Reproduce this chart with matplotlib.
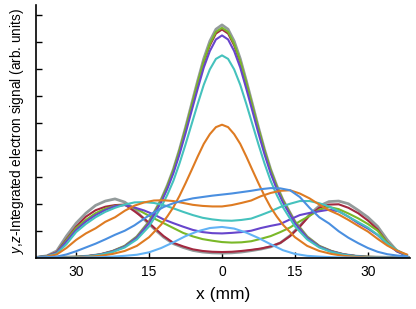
import numpy as np
import matplotlib
matplotlib.use('Agg')
import matplotlib.pyplot as plt

plt.rcParams['font.family'] = ['Liberation Sans', 'DejaVu Sans']
plt.rcParams['mathtext.fontset'] = 'custom'
plt.rcParams['mathtext.it'] = 'Liberation Sans:italic'
plt.rcParams['mathtext.rm'] = 'Liberation Sans'

## broad profiles, sampled every 2 mm
x_broad = np.arange(-38, 39, 2)

gray_broad = [0.02, 0.07, 0.25, 0.80, 1.28, 1.65, 1.94, 2.10, 2.18, 2.06, 1.80, 1.42, 1.08,
              0.76, 0.52, 0.38, 0.27, 0.21, 0.18, 0.17, 0.18, 0.21, 0.26, 0.32, 0.40, 0.55,
              0.82, 1.18, 1.60, 1.92, 2.08, 2.10, 2.00, 1.76, 1.50, 1.16, 0.66, 0.25, 0.08]
red_broad = [0.02, 0.06, 0.20, 0.68, 1.15, 1.52, 1.76, 1.89, 1.95, 1.97, 1.72, 1.45, 1.12,
             0.80, 0.55, 0.42, 0.31, 0.25, 0.22, 0.21, 0.22, 0.25, 0.29, 0.34, 0.42, 0.55,
             0.80, 1.15, 1.56, 1.85, 1.97, 1.98, 1.85, 1.65, 1.38, 1.05, 0.55, 0.25, 0.09]
green_broad = [0.02, 0.06, 0.18, 0.65, 1.10, 1.40, 1.65, 1.82, 1.92, 1.96, 1.85, 1.65, 1.46,
               1.28, 1.10, 0.92, 0.79, 0.69, 0.63, 0.58, 0.56, 0.57, 0.61, 0.70, 0.80, 0.95,
               1.12, 1.35, 1.55, 1.78, 1.88, 1.80, 1.64, 1.46, 1.25, 1.00, 0.55, 0.24, 0.08]
purple_broad = [0.02, 0.06, 0.18, 0.60, 1.03, 1.34, 1.58, 1.77, 1.91, 1.95, 1.86, 1.75, 1.60,
                1.42, 1.28, 1.15, 1.03, 0.95, 0.91, 0.90, 0.92, 0.95, 1.00, 1.10, 1.18, 1.25,
                1.42, 1.58, 1.66, 1.72, 1.78, 1.72, 1.52, 1.28, 1.08, 0.84, 0.50, 0.23, 0.08]
cyan_broad = [0.02, 0.05, 0.15, 0.50, 0.95, 1.25, 1.50, 1.70, 1.85, 1.97, 2.05, 2.06, 2.03,
              1.95, 1.83, 1.70, 1.58, 1.48, 1.42, 1.38, 1.37, 1.40, 1.45, 1.58, 1.72, 1.88,
              2.00, 2.10, 2.10, 2.02, 1.90, 1.72, 1.52, 1.32, 1.12, 0.85, 0.52, 0.28, 0.09]
orange_broad = [0.01, 0.04, 0.12, 0.36, 0.66, 0.90, 1.09, 1.33, 1.50, 1.74, 1.93, 2.05, 2.12,
                2.13, 2.10, 2.03, 1.96, 1.92, 1.90, 1.90, 1.95, 2.03, 2.12, 2.28, 2.40, 2.48,
                2.50, 2.38, 2.20, 1.97, 1.76, 1.60, 1.40, 1.18, 0.97, 0.70, 0.45, 0.26, 0.12]
blue_broad = [0.01, 0.02, 0.04, 0.12, 0.24, 0.38, 0.52, 0.68, 0.85, 1.00, 1.20, 1.45, 1.68,
              1.88, 2.02, 2.12, 2.20, 2.25, 2.30, 2.34, 2.38, 2.43, 2.48, 2.54, 2.58, 2.57,
              2.50, 2.25, 1.85, 1.50, 1.27, 0.98, 0.74, 0.54, 0.36, 0.22, 0.13, 0.08, 0.05]

## central peaks
x_peak = [-38.3, -30, -27.5, -25, -22.5, -20, -17.5, -15, -12.5, -11.25, -10, -8.75, -7.5,
          -6.25, -5, -3.75, -2.5, -1.25, 0, 1.25, 2.5, 3.75, 5, 6.25, 7.5, 8.75, 10, 11.25,
          12.5, 15, 17.5, 20, 22.5, 25, 27.5, 30, 38.7]

gray_peak = [0, 0.03, 0.06, 0.12, 0.24, 0.43, 0.78, 1.34, 2.16, 2.68, 3.28, 4.01, 4.83, 5.70,
             6.56, 7.38, 8.03, 8.47, 8.63, 8.47, 8.03, 7.38, 6.56, 5.70, 4.83, 4.01, 3.28,
             2.68, 2.16, 1.34, 0.78, 0.43, 0.24, 0.12, 0.06, 0.03, 0]
green_peak = [0, 0.03, 0.06, 0.12, 0.24, 0.43, 0.77, 1.32, 2.13, 2.64, 3.24, 3.96, 4.77, 5.62,
              6.48, 7.28, 7.92, 8.37, 8.52, 8.37, 7.92, 7.28, 6.48, 5.62, 4.77, 3.96, 3.24,
              2.64, 2.13, 1.32, 0.77, 0.43, 0.24, 0.12, 0.06, 0.03, 0]
red_peak = [0, 0.03, 0.06, 0.12, 0.24, 0.42, 0.76, 1.31, 2.12, 2.62, 3.21, 3.93, 4.74, 5.58,
            6.43, 7.23, 7.87, 8.31, 8.46, 8.31, 7.87, 7.23, 6.43, 5.58, 4.74, 3.93, 3.21,
            2.62, 2.12, 1.31, 0.76, 0.42, 0.24, 0.12, 0.06, 0.03, 0]
purple_peak = [0, 0.02, 0.06, 0.12, 0.23, 0.41, 0.74, 1.28, 2.06, 2.55, 3.13, 3.83, 4.61, 5.44,
               6.26, 7.05, 7.66, 8.09, 8.24, 8.09, 7.66, 7.05, 6.26, 5.44, 4.61, 3.83, 3.13,
               2.55, 2.06, 1.28, 0.74, 0.41, 0.23, 0.12, 0.06, 0.02, 0]
cyan_peak = [0, 0.02, 0.05, 0.11, 0.21, 0.38, 0.68, 1.16, 1.88, 2.33, 2.85, 3.49, 4.20, 4.95,
             5.70, 6.41, 6.98, 7.37, 7.50, 7.37, 6.98, 6.41, 5.70, 4.95, 4.20, 3.49, 2.85,
             2.33, 1.88, 1.16, 0.68, 0.38, 0.21, 0.11, 0.05, 0.02, 0]
orange_peak = [0, 0.01, 0.03, 0.07, 0.14, 0.25, 0.44, 0.76, 1.23, 1.53, 1.87, 2.29, 2.76, 3.25,
               3.75, 4.22, 4.58, 4.84, 4.93, 4.84, 4.58, 4.22, 3.75, 3.25, 2.76, 2.29, 1.87,
               1.53, 1.23, 0.76, 0.44, 0.25, 0.14, 0.07, 0.03, 0.01, 0]

x_lblue = [-38.3, -30, -27.5, -25, -22.5, -20, -17.5, -15, -12.5, -10, -7.5, -5, -2.5, 0,
           2.5, 5, 7.5, 10, 12.5, 15, 17.5, 20, 22.5, 25, 27.5, 30, 38.7]
lblue_peak = [0, 0, 0.01, 0.02, 0.04, 0.07, 0.11, 0.20, 0.36, 0.57, 0.80, 0.98, 1.10, 1.14,
              1.08, 0.93, 0.73, 0.50, 0.28, 0.14, 0.07, 0.04, 0.02, 0.01, 0, 0, 0]

xticks = [-30, -15, 0, 15, 30]
xticklabels = ['30', '15', '0', '15', '30']

GRAY = '#939b9b'
RED = '#a3283f'
GREEN = '#7ab828'
PURPLE = '#6745cc'
CYAN = '#45c2bd'
ORANGE = '#de7b22'
BLUE = '#4a8fe0'
LBLUE = '#62b2f5'

fig = plt.figure(figsize=(4.16, 3.09), dpi=100)
ax = fig.add_axes([0.086, 0.166, 0.9, 0.818])

ax.plot(x_broad, gray_broad, color=GRAY, lw=2.0)
ax.plot(x_peak, gray_peak, color=GRAY, lw=2.0)
ax.plot(x_broad, red_broad, color=RED, lw=1.5)
ax.plot(x_peak, red_peak, color=RED, lw=1.5)
ax.plot(x_broad, green_broad, color=GREEN, lw=1.5)
ax.plot(x_peak, green_peak, color=GREEN, lw=1.5)
ax.plot(x_broad, purple_broad, color=PURPLE, lw=1.5)
ax.plot(x_peak, purple_peak, color=PURPLE, lw=1.5)
ax.plot(x_broad, cyan_broad, color=CYAN, lw=1.5)
ax.plot(x_peak, cyan_peak, color=CYAN, lw=1.5)
ax.plot(x_broad, orange_broad, color=ORANGE, lw=1.5)
ax.plot(x_peak, orange_peak, color=ORANGE, lw=1.5)
ax.plot(x_broad, blue_broad, color=BLUE, lw=1.5)
ax.plot(x_lblue, lblue_peak, color=LBLUE, lw=1.5)

ax.set_xlim(-38.3, 38.7)
ax.set_ylim(0, 9.37)
ax.set_xticks(xticks)
ax.set_xticklabels(xticklabels)
ax.set_yticks(range(1, 10))
ax.set_yticklabels([])
ax.tick_params(direction='in', length=4, width=1, labelsize=10, pad=5)
for s in ('top', 'right'):
    ax.spines[s].set_visible(False)
for s in ('left', 'bottom'):
    ax.spines[s].set_linewidth(1.2)

ax.set_xlabel('x (mm)', fontsize=12.5, labelpad=6)
ax.set_ylabel('$y$,$z$-Integrated electron signal (arb. units)', fontsize=9.8, labelpad=2)

fig.savefig('out.png', dpi=100)
